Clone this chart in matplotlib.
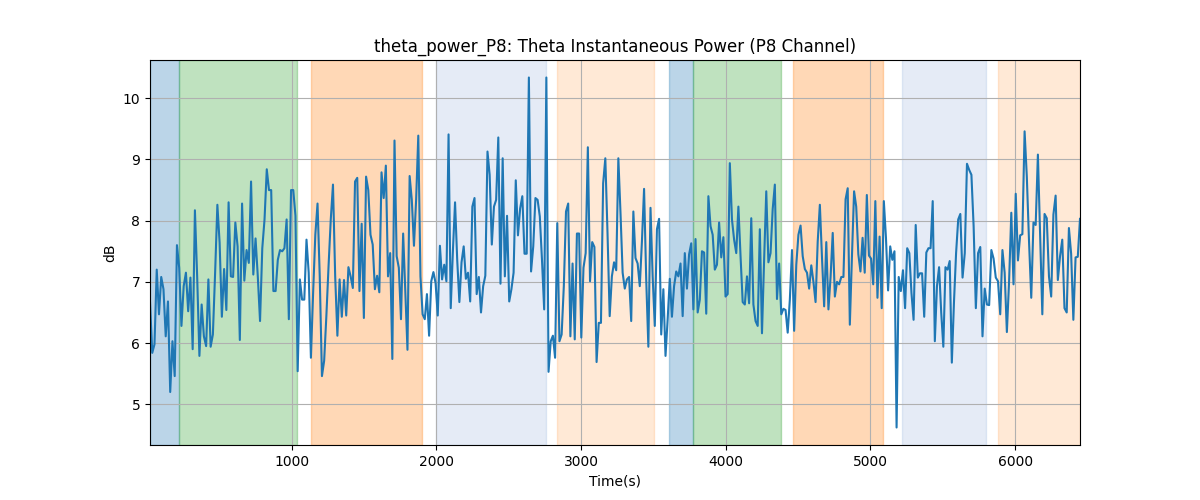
import numpy as np
import matplotlib
matplotlib.use("Agg")
import matplotlib.pyplot as plt

# theta power (dB) in chunks
seg1 = [6.67, 5.84, 5.98, 7.2, 6.47, 7.08, 6.88, 6.11, 6.68, 5.2, 6.03, 5.46, 7.6, 7.23,
        6.28, 6.93, 7.15, 6.52, 7.07, 5.9, 8.17, 7.09, 5.79, 6.63, 6.11, 5.95, 7.04, 5.94,
        6.14, 7.15, 8.26, 7.64, 6.43, 7.21, 6.54, 8.3, 7.09, 7.08, 7.97, 7.58, 6.05, 8.28,
        7.02, 7.52, 7.31, 8.64, 7.12, 7.71, 7.09, 6.36, 7.55, 8.02, 8.84]
seg2 = [8.5, 8.5, 6.85, 6.85, 7.36, 7.52, 7.5, 7.55, 8.02, 6.39, 8.5, 8.5, 8.08, 5.54,
        7.04, 6.71, 6.71, 7.69, 7.15, 5.76, 6.82, 7.77, 8.28, 7.09, 5.46, 5.71, 6.44, 7.26,
        8.02, 8.59, 7.09, 6.12, 7.04, 6.43, 7.03, 6.45, 7.24, 7.09, 6.9, 8.64, 8.7, 6.85,
        7.95, 6.41, 8.72, 8.5, 7.77, 7.61, 6.88, 7.1, 6.83, 8.79]
seg3 = [8.37, 8.9, 7.09, 7.47, 5.74, 9.31, 7.42, 7.23, 6.39, 7.79, 6.85, 5.89, 8.73,
        8.34, 7.59, 8.34, 9.39, 7.09, 6.47, 6.39, 6.8, 6.12, 7.01, 7.16, 6.98, 6.45, 7.59,
        7.04, 7.28, 7.01, 9.41, 6.57, 7.5, 8.3, 7.36, 6.67, 7.32, 7.58, 7.05, 7.15, 6.68,
        8.23, 8.37, 6.8, 7.08, 6.5, 6.93, 7.1, 9.13, 8.75, 7.61, 8.23, 8.34, 9.36]
seg4 = [6.97, 9.02, 7.09, 8.08, 6.68, 6.88, 7.15, 8.66, 7.76, 8.2, 8.4, 7.46, 7.46,
        10.34, 7.17, 7.58, 8.37, 8.34, 8.07, 7.36, 6.55, 10.34, 5.53, 6.03, 6.12, 5.76,
        7.96, 6.03, 6.14, 6.93, 8.15, 8.28, 6.11, 7.3, 6.06, 7.79, 7.79, 6.09, 7.23, 7.47,
        9.2, 7.01, 7.65, 7.57, 5.69, 6.33, 6.33, 8.61, 9.02, 7.8, 6.44, 7.09, 7.32]
seg5 = [7.19, 9.02, 8.13, 7.15, 6.89, 7.04, 7.08, 6.36, 8.15, 7.39, 7.3, 6.93, 7.66,
        8.52, 7.04, 5.94, 8.21, 7.09, 6.28, 7.86, 8.03, 6.14, 6.88, 5.79, 6.39, 7.05, 6.43,
        6.93, 7.17, 7.09, 7.3, 6.44, 7.47, 6.89, 7.45, 7.63, 6.55, 7.7, 6.5, 6.71, 7.5,
        7.48, 6.48, 8.4, 7.91, 7.77, 7.2, 7.28, 7.97, 7.4, 7.73, 6.76, 6.8, 8.94]
seg6 = [8.02, 7.69, 7.47, 8.23, 7.42, 6.67, 6.63, 7.09, 6.65, 8.04, 6.63, 6.36, 6.28,
        7.86, 6.16, 7.36, 8.48, 7.32, 7.47, 8.19, 8.59, 6.72, 7.3, 6.47, 6.56, 6.54, 6.17,
        6.71, 7.52, 6.2, 7.28, 7.77, 7.92, 7.42, 7.21, 7.15, 6.89, 7.27, 7.0, 6.67, 7.66,
        8.26, 7.39, 6.6, 7.65, 6.55, 7.08, 7.8, 6.76, 7.0, 6.96, 7.08, 7.08, 8.35]
seg7 = [8.53, 6.3, 7.42, 8.48, 8.23, 7.45, 7.17, 7.72, 7.15, 8.42, 7.43, 7.38, 6.96,
        8.32, 6.74, 7.74, 6.57, 8.32, 7.72, 6.86, 7.58, 7.36, 7.5, 4.62, 7.08, 6.85, 7.19,
        6.57, 7.55, 7.47, 6.82, 6.38, 7.93, 7.07, 7.14, 7.14, 6.43, 7.48, 7.55, 7.55, 8.32,
        6.03, 6.93, 7.24, 6.5, 5.94, 7.24, 7.2, 7.34, 5.68, 6.66, 7.47, 8.02, 8.11]
seg8 = [7.07, 7.47, 8.93, 8.83, 8.75, 7.91, 6.57, 7.47, 7.57, 6.11, 6.89, 6.63, 6.62,
        7.52, 7.38, 7.07, 7.01, 6.47, 7.52, 7.15, 6.18, 7.01, 8.13, 6.96, 8.44, 7.35, 7.76,
        7.78, 9.46, 8.72, 7.66, 6.74, 7.97, 7.93, 9.08, 7.8, 6.47, 8.11, 8.04, 7.09, 6.76,
        8.1, 8.41, 7.03, 7.42, 7.69, 6.57, 6.5, 7.88, 7.46, 6.38, 7.4, 7.41, 8.03]
segments = [seg1, seg2, seg3, seg4, seg5, seg6, seg7, seg8]
# time at which each chunk ends (s)
seg_end = [828, 1621, 2428, 3228, 4028, 4828, 5621, 6448]
t_start = 21

power = np.concatenate(segments)
time_parts = []
prev = t_start
for seg, end in zip(segments, seg_end):
    time_parts.append(np.linspace(prev, end, len(seg) + 1)[1:] if prev != t_start
                      else np.linspace(prev, end, len(seg)))
    prev = end
time = np.concatenate(time_parts)

# task phases (start, end, colour, alpha)
phase_start = [21, 221, 1131, 2000, 2834, 3607, 3772, 4462, 5221, 5883]
phase_end = [221, 1035, 1903, 2759, 3503, 3772, 4379, 5090, 5800, 6448]
phase_color = ["tab:blue", "tab:green", "tab:orange", "#7d9fd4", "tab:orange"] * 2
phase_alpha = [0.3, 0.3, 0.3, 0.2, 0.17] * 2

fig, ax = plt.subplots(figsize=(12, 5), dpi=100)
for s, e, c, a in zip(phase_start, phase_end, phase_color, phase_alpha):
    ax.axvspan(s, e, color=c, alpha=a)
ax.plot(time, power, color="tab:blue")
ax.set_xlim(t_start, seg_end[-1])
ax.set_title("theta_power_P8: Theta Instantaneous Power (P8 Channel)")
ax.set_xlabel("Time(s)")
ax.set_ylabel("dB")
ax.grid(True)
fig.savefig("out.png")
